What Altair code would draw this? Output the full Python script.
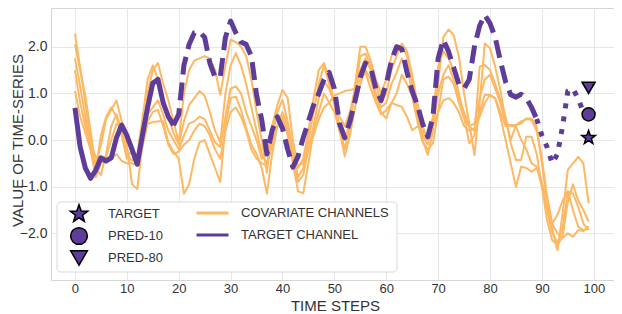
import math
import altair as alt
import pandas as pd

PURPLE = "#5e3c99"
ORANGE = "#fdb863"
FONT = "Liberation Sans"

steps = list(range(100))

cov_a = [2.28, 1.55, 0.8, 0.0, -0.55, -0.1, 0.45, 0.65, 0.85, 0.4,
         -0.1, -0.95, -1.05, -0.1, 1.0, 1.5, 1.65, 1.2, 0.85, 0.4,
         -0.05, 1.0, 1.5, 1.7, 1.75, 1.8, 1.75, 1.5, 0.97, 1.6,
         2.15, 2.1, 2.0, 1.8, 1.3, 0.6, 0.0, -0.7, 0.3, 0.75,
         1.07, 0.9, 0.0, -0.6, -0.4, 0.2, 0.9, 1.5, 1.65, 1.3,
         0.8, 0.3, -0.2, 0.3, 1.2, 2.0, 2.0, 1.7, 1.3, 1.0,
         1.3, 1.8, 2.04, 2.0, 1.8, 1.2, 0.6, 0.0, -0.32, 0.2,
         1.2, 2.2, 2.37, 2.25, 1.79, 1.0, 0.36, -0.32, 0.8, 2.07,
         1.97, 1.57, 1.07, 0.43, 0.0, 0.32, 0.36, 0.46, 0.46, 0.29,
         -0.5, -1.3, -1.9, -2.36, -1.57, -0.64, -0.5, -0.36, -0.5, -1.36]
cov_b = [2.05, 1.5, 0.95, 0.2, -0.6, -0.75, -0.3, 0.3, 0.55, 0.2,
         -0.3, -0.45, -0.3, 0.45, 1.3, 1.6, 1.3, 0.85, 0.5, 0.15,
         -0.1, 0.4, 0.75, 0.9, 1.05, 0.95, 0.6, 0.2, -0.05, 1.0,
         1.6, 1.86, 1.6, 1.2, 0.7, 0.2, -0.3, -0.5, 0.1, 0.6,
         0.86, 0.4, -0.2, -0.8, -0.6, 0.0, 0.6, 1.2, 1.6, 1.2,
         0.75, 0.2, 0.0, 0.4, 1.0, 1.8, 1.85, 1.6, 1.2, 0.8,
         1.0, 1.5, 1.8, 2.07, 1.9, 1.4, 0.8, 0.3, 0.0, 0.5,
         1.57, 1.9, 1.75, 1.5, 1.0, 0.5, -0.07, 0.1, 1.57, 1.61,
         1.5, 1.2, 0.86, 0.5, -0.07, -0.43, -0.43, 0.07, 0.07, -0.3,
         -1.0, -1.72, -2.15, -2.25, -2.07, -1.32, -0.95, -1.3, -1.5, -1.75]
cov_c = [1.75, 1.15, 0.5, -0.2, -0.65, 0.1, 0.5, 0.7, 0.5, 0.1,
         -0.4, -0.2, -0.45, 0.15, 0.55, 0.7, 0.85, 0.55, 0.2, 0.0,
         -0.2, 0.1, 0.35, 0.4, 0.5, 0.45, 0.2, -0.05, -0.15, 0.5,
         1.1, 1.15, 1.0, 0.6, 0.3, 0.0, -0.4, -0.3, 0.2, 0.5,
         0.5, 0.1, -0.4, -0.9, -0.75, -0.2, 0.3, 0.9, 1.25, 1.1,
         0.8, 0.5, 0.3, 0.6, 1.1, 1.5, 1.75, 1.5, 1.0, 0.7,
         0.8, 1.2, 1.45, 1.75, 1.6, 1.0, 0.5, 0.1, -0.1, 0.3,
         1.0, 1.4, 1.6, 1.3, 0.9, 0.6, 0.3, 0.35, 0.9, 1.3,
         1.4, 1.1, 0.8, 0.36, 0.3, 0.3, 0.0, -0.2, -0.5, -0.57,
         -1.0, -1.5, -2.0, -2.2, -1.9, -1.1, -1.15, -1.43, -1.79, -1.93]
cov_d = [1.05, 0.5, 0.15, -0.2, -0.8, -0.5, -0.35, -0.4, -0.3, -0.45,
         -0.5, -0.5, -0.55, -0.15, 0.35, 0.38, 0.4, 0.4, -0.05, -0.25,
         -0.4, -1.15, -0.95, -0.4, -0.05, 0.0, -0.3, -0.6, -0.9, 0.3,
         0.9, 0.93, 0.65, 0.25, -0.1, -0.3, -0.6, -1.15, -0.3, 0.3,
         0.6, 0.3, -0.5, -1.1, -1.14, -0.5, 0.2, 0.6, 1.0, 0.8,
         0.6, 0.2, -0.35, 0.1, 0.7, 1.2, 1.5, 1.3, 0.9, 0.6,
         0.46, 0.79, 1.0, 1.4, 1.2, 0.93, 0.4, -0.04, -0.2, -0.07,
         0.6, 1.3, 1.36, 1.2, 0.8, 0.46, 0.29, 0.2, 0.6, 0.97,
         0.96, 0.89, 0.5, 0.0, -0.5, -1.0, -0.57, -0.6, -0.68, -0.6,
         -0.9, -1.4, -1.8, -2.0, -2.1, -2.0, -2.07, -1.93, -1.95, -1.85]
cov_e = [1.5, 0.8, 0.3, -0.1, -0.35, -0.5, -0.35, 0.0, 0.35, 0.25,
         0.1, -0.3, -0.45, 0.0, 0.4, 0.6, 0.65, 0.3, -0.1, -0.3,
         -0.25, -0.1, 0.0, 0.2, 0.35, 0.3, 0.1, -0.2, -0.4, 0.2,
         0.6, 0.7, 0.5, 0.2, -0.2, -0.4, -0.5, -0.55, -0.1, 0.3,
         0.45, 0.2, -0.3, -0.55, -0.5, -0.2, 0.1, 0.45, 0.7, 0.8,
         0.95, 1.0, 1.05, 1.07, 1.1, 1.3, 1.45, 1.1, 0.8, 0.55,
         0.64, 0.8, 0.75, 0.71, 0.5, 0.21, 0.29, 0.2, 0.0, 0.3,
         0.6, 0.85, 0.9, 0.8, 0.6, 0.3, 0.2, 0.25, 0.5, 0.8,
         0.97, 0.9, 0.6, 0.3, 0.32, 0.32, 0.4, 0.45, 0.43, 0.2,
         -0.4, -1.2, -1.79, -1.6, -1.3, -1.1, -1.5, -1.86, -1.93, -1.9]
covariates = [cov_a, cov_b, cov_c, cov_d, cov_e]

target = [0.69, -0.15, -0.6, -0.82, -0.65, -0.38, -0.45, -0.38, 0.05, 0.32,
          0.1, -0.2, -0.52, 0.1, 0.7, 1.22, 1.3, 0.8, 0.5, 0.32,
          0.55, 1.6, 2.05, 2.3, 2.32, 2.2, 1.65, 1.35, 1.35, 2.2,
          2.55, 2.3, 2.1, 2.05, 1.8, 0.97, 0.43, -0.3, 0.2, 0.5,
          0.25, -0.2, -0.58, -0.35, 0.05, 0.4, 0.75, 1.0, 1.3, 1.45,
          1.1, 0.35, 0.05, 0.4, 0.85, 1.35, 1.65, 1.55, 1.1, 0.85,
          1.2, 1.7, 2.0, 1.95, 1.45, 1.05, 0.75, 0.35, 0.07, 0.5,
          1.75, 2.15, 1.9, 1.55, 1.2, 1.1, 1.3, 2.0, 2.45, 2.68,
          2.5, 2.2, 1.7, 1.25, 0.97, 0.92, 0.98, 0.9, 0.7, 0.45,
          0.1, -0.15, -0.5, -0.3, 0.3, 1.05, 1.1, 0.88, 0.6]
solid_end = 19
dashed_end = 89

marker_names = ["TARGET", "PRED-10", "PRED-80"]
marker_values = [0.05, 0.55, 1.12]
marker_step = 99

line_names = ["COVARIATE CHANNELS", "TARGET CHANNEL"]
seg_names = ["solid", "dashed", "dotted"]

x_ticks = list(range(0, 101, 10))
y_ticks = [-2, -1, 0, 1, 2]

# ---- tables ----
cov_rows = []
for i, vals in enumerate(covariates):
    for t, v in zip(steps, vals):
        cov_rows.append({"t": t, "v": v, "series": f"c{i}", "channel": line_names[0]})
cov_df = pd.DataFrame(cov_rows)

tgt_rows = []
for t, v in enumerate(target):
    if t <= solid_end:
        tgt_rows.append({"t": t, "v": v, "seg": "solid"})
    if solid_end <= t <= dashed_end:
        tgt_rows.append({"t": t, "v": v, "seg": "dashed"})
    if t >= dashed_end:
        tgt_rows.append({"t": t, "v": v, "seg": "dotted"})
tgt_df = pd.DataFrame(tgt_rows)
tgt_df["channel"] = line_names[1]

mk_df = pd.DataFrame({"t": [marker_step] * 3, "v": marker_values, "marker": marker_names})

# star symbol path
pts = []
for i in range(10):
    ang = -math.pi / 2 + i * math.pi / 5
    r = 1.1 if i % 2 == 0 else 0.45
    pts.append(f"{r * math.cos(ang):.3f},{r * math.sin(ang):.3f}")
STAR = "M" + "L".join(pts) + "Z"

x_scale = alt.Scale(domain=[-4.62, 103.9], nice=False, zero=False)
y_scale = alt.Scale(domain=[-3, 2.83], nice=False, zero=False)

x_axis = alt.Axis(values=x_ticks, title="TIME STEPS", titleX=284, titleY=30.5,
                  titleAlign="center", titleBaseline="alphabetic", labelPadding=2,
                  labelFontSize=13)
y_axis = alt.Axis(values=y_ticks, format=".1f", title="VALUE OF TIME-SERIES",
                  titleAngle=270, titleX=-29, titleY=132, titleAlign="center",
                  titleBaseline="alphabetic", labelPadding=4, labelFontSize=14)

stroke_scale = alt.Scale(domain=line_names, range=[ORANGE, PURPLE])
line_legend = alt.Legend(title=None, orient="none", legendX=152, legendY=195.5,
                         symbolType="M-2,0H2", symbolSize=256, symbolStrokeWidth=3,
                         labelOffset=19, rowPadding=5, padding=0)

cov = alt.Chart(cov_df).mark_line(strokeWidth=2, strokeJoin="round").encode(
    x=alt.X("t:Q", scale=x_scale, axis=x_axis),
    y=alt.Y("v:Q", scale=y_scale, axis=y_axis),
    stroke=alt.Stroke("channel:N", scale=stroke_scale, legend=line_legend),
    detail="series:N",
    order="t:Q",
)

tgt = alt.Chart(tgt_df).mark_line(strokeWidth=5, strokeCap="butt", strokeJoin="round").encode(
    x="t:Q",
    y="v:Q",
    stroke=alt.Stroke("channel:N", scale=stroke_scale, legend=line_legend),
    strokeDash=alt.StrokeDash("seg:N", scale=alt.Scale(domain=seg_names, range=[[1, 0], [18, 8], [5, 8]]), legend=None),
    order="t:Q",
)

mk = alt.Chart(mk_df).mark_point(filled=True, size=170, color=PURPLE, stroke="black",
                                 strokeWidth=1.5, opacity=1).encode(
    x="t:Q",
    y="v:Q",
    shape=alt.Shape("marker:N",
                    scale=alt.Scale(domain=marker_names, range=[STAR, "circle", "triangle-down"]),
                    legend=alt.Legend(title=None, orient="none", legendX=18.5, legendY=196.5,
                                      symbolSize=280, labelOffset=19.5, rowPadding=0, padding=0)),
)

frame = alt.Chart(pd.DataFrame({"k": [0]})).mark_rect(
    fill="white", fillOpacity=0.9, stroke="#d9d9d9", strokeWidth=1, cornerRadius=4
).encode(x=alt.value(6), x2=alt.value(346), y=alt.value(194), y2=alt.value(264))

chart = alt.layer(cov, tgt, mk, frame).properties(
    width=563, height=272,
    autosize=alt.AutoSizeParams(type="none"),
    padding={"left": 43, "top": 0, "right": 0, "bottom": 34},
    background="white",
).configure_view(
    stroke="#d6d6d6", strokeWidth=1
).configure_axis(
    grid=True, gridColor="#e6e6e6", gridWidth=1, domain=False, ticks=False,
    labelFont=FONT, labelColor="#333333",
    titleFont=FONT, titleFontSize=15, titleColor="#333333", titleFontWeight="normal",
).configure_legend(
    labelFont=FONT, labelFontSize=13, labelColor="#333333",
)

chart.save("out.html", embed_options={"renderer": "svg", "actions": False})
